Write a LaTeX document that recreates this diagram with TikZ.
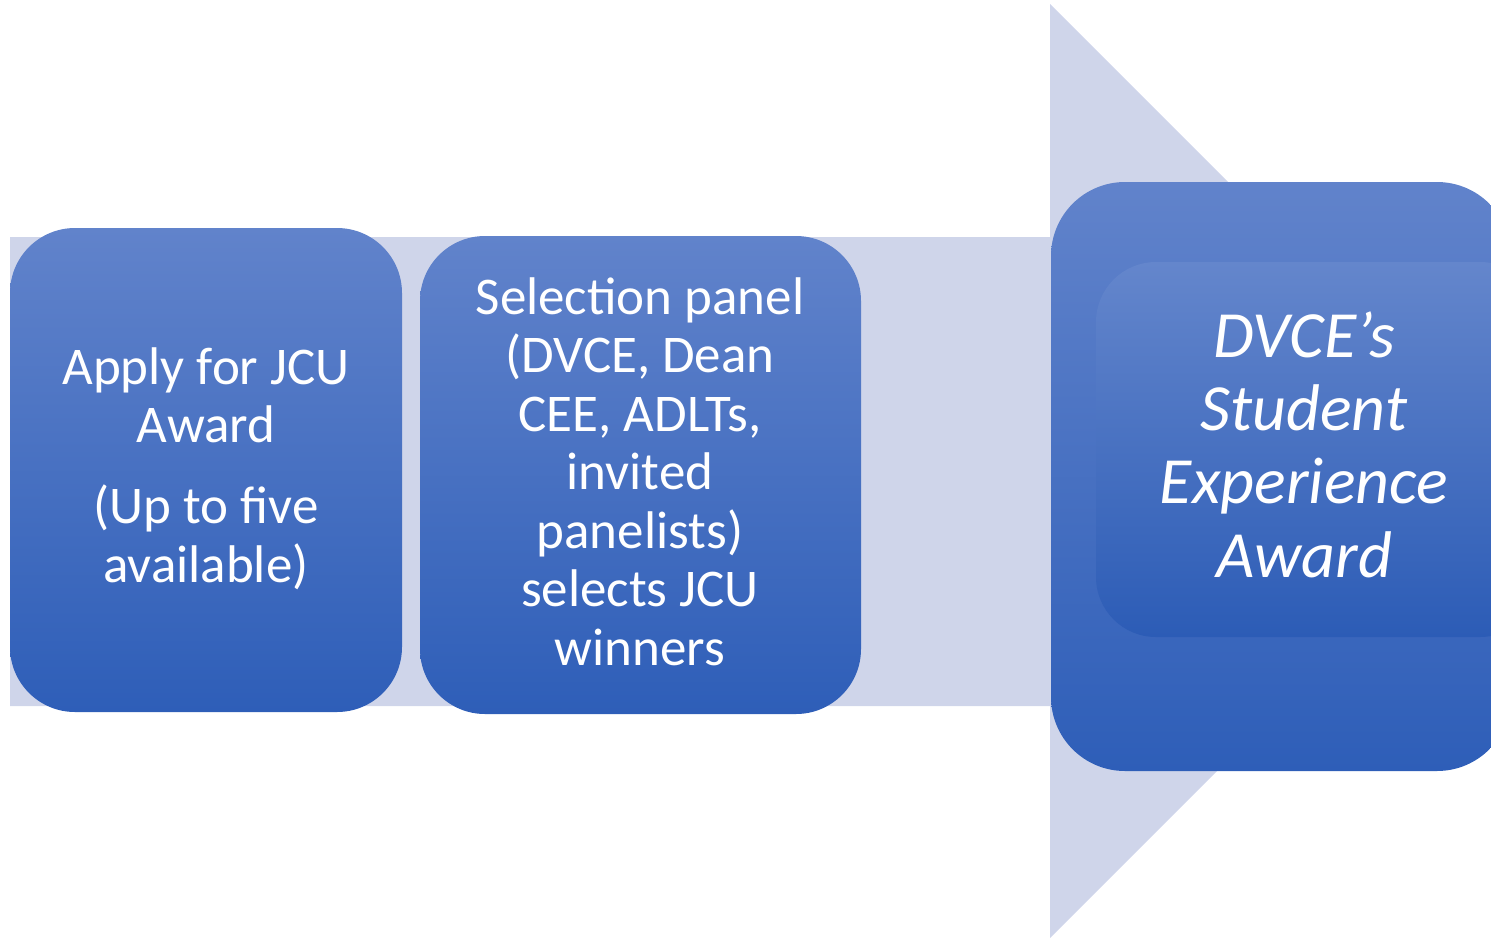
\documentclass[tikz,border=0pt]{standalone}
\usepackage{fontspec}
\setmainfont{Carlito}
\definecolor{arrowfill}{RGB}{207,213,234}
\definecolor{btop}{RGB}{97,131,203}
\definecolor{bbot}{RGB}{46,94,184}
\definecolor{itop}{RGB}{100,134,204}
\definecolor{ibot}{RGB}{44,92,182}
\begin{document}
\begin{tikzpicture}[x=1pt,y=-1pt,
  box/.style={top color=btop,bottom color=bbot,draw=none,inner sep=0pt},
  lbl/.style={text=white,align=center,anchor=base,inner sep=0pt,
    font=\fontsize{53}{58.5}\selectfont},
  biglbl/.style={text=white,align=center,anchor=base,inner sep=0pt,
    font=\fontsize{66}{73.3}\selectfont\itshape}]
\useasboundingbox (0,0) rectangle (1491,937);
\clip (0,0) rectangle (1491,937);
% background arrow
\fill[arrowfill] (10,237) -- (1050,237) -- (1050,4) -- (1517,471)
  -- (1050,938) -- (1050,706) -- (10,706) -- cycle;
% boxes
\node[box,minimum width=392pt,minimum height=484pt,rounded corners=65pt] (b1) at (206,470) {};
\node[box,minimum width=441pt,minimum height=478pt,rounded corners=65pt] (b2) at (640.5,475) {};
\node[box,minimum width=460pt,minimum height=589pt,rounded corners=74pt] (b3) at (1281,476.5) {};
\node[top color=itop,bottom color=ibot,draw=none,inner sep=0pt,
  minimum width=444pt,minimum height=375pt,rounded corners=60pt] (b3i) at (1318,449.5) {};
% labels
\node[lbl] (t1) at (206,582) {Apply for JCU\\Award\\[22.5pt](Up to five\\available)};
\node[lbl] (t2) at (640,665) {Selection panel\\(DVCE, Dean\\CEE, ADLTs,\\invited\\panelists)\\selects JCU\\winners};
\node[biglbl] (t3) at (1304,577) {DVCE’s\\Student\\Experience\\Award};
\end{tikzpicture}
\end{document}
